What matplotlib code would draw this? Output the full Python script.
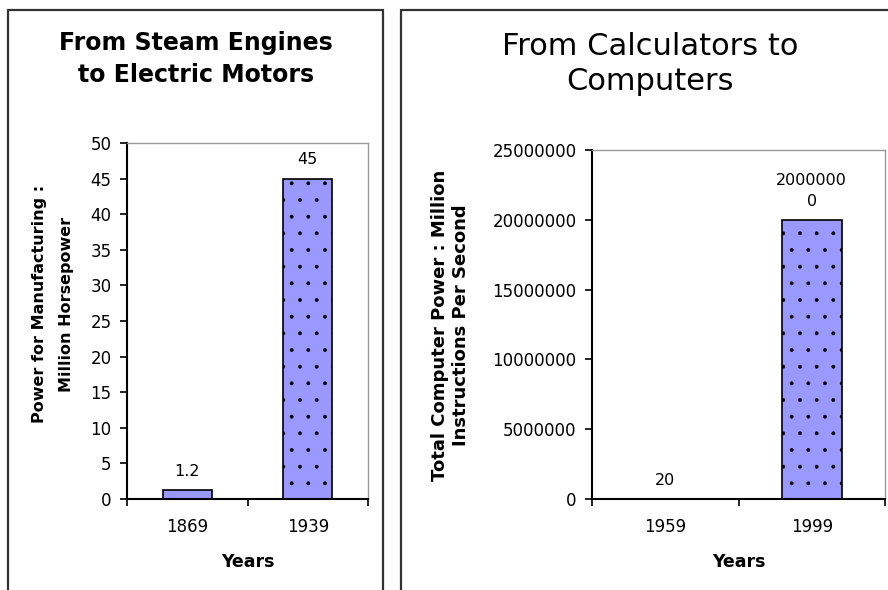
import numpy as np
import matplotlib.pyplot as plt
from matplotlib.patches import Rectangle

# データ
left_years = ['1869', '1939']
left_power = [1.2, 45]
left_labels = ['1.2', '45']

right_years = ['1959', '1999']
right_mips = [20, 20000000]
right_labels = ['20', '2000000\n0']

W, H = 888, 590
BAR = '#9999ff'

plt.rcParams['hatch.linewidth'] = 0.3
plt.rcParams['hatch.color'] = '#3a3a7a'

fig = plt.figure(figsize=(W/100, H/100), dpi=100)

def fx(px): return px/W
def fy(py): return 1 - py/H

# パネルの枠
for x0, x1 in [(8, 383), (401, 895)]:
    fig.add_artist(Rectangle((fx(x0), fy(600)), fx(x1-x0), (600-10)/H,
                             transform=fig.transFigure, fill=False,
                             edgecolor='#333333', linewidth=1.6))

def panel(rect, years, vals, labels, ymax, ystep):
    ax = fig.add_axes([fx(rect[0]), fy(rect[3]), fx(rect[2]-rect[0]), (rect[3]-rect[1])/H])
    x = np.arange(len(years))
    ax.bar(x, vals, width=0.41, color=BAR, edgecolor='black', linewidth=1.2,
           hatch=['', '.'])
    for xi, v, s in zip(x, vals, labels):
        ax.annotate(s, (xi, v), xytext=(0, 8), textcoords='offset points',
                    ha='center', va='bottom', fontsize=11.5, linespacing=1.45)
    ax.set_xlim(-0.5, len(years)-0.5)
    ax.set_ylim(0, ymax)
    yt = np.arange(0, ymax+1, ystep)
    ax.set_yticks(yt)
    ax.set_yticklabels([str(int(t)) for t in yt])
    ax.set_xticks(np.arange(len(years)+1)-0.5)
    ax.set_xticklabels([])
    ax.set_xticks(x, minor=True)
    ax.set_xticklabels(years, minor=True)
    ax.tick_params(axis='x', which='major', direction='out', length=5, width=1.2)
    ax.tick_params(axis='x', which='minor', length=0, pad=14, labelsize=12)
    ax.tick_params(axis='y', direction='out', length=5, width=1.2, pad=6, labelsize=12)
    for s in ['top', 'right']:
        ax.spines[s].set_color('#999999')
        ax.spines[s].set_linewidth(1.0)
    for s in ['left', 'bottom']:
        ax.spines[s].set_linewidth(1.5)
    fig.text(fx((rect[0]+rect[2])/2), fy(567), 'Years', ha='center', va='baseline',
             fontsize=12.5, fontweight='bold')
    return ax

panel((127, 143, 368, 499), left_years, left_power, left_labels, 50, 5)
panel((592, 150, 885, 499), right_years, right_mips, right_labels, 25000000, 5000000)

# タイトル
fig.text(fx(196), fy(50), 'From Steam Engines', ha='center', va='baseline',
         fontsize=17, fontweight='bold')
fig.text(fx(196), fy(82), 'to Electric Motors', ha='center', va='baseline',
         fontsize=17, fontweight='bold')
fig.text(fx(650), fy(55), 'From Calculators to', ha='center', va='baseline', fontsize=22)
fig.text(fx(650), fy(90), 'Computers', ha='center', va='baseline', fontsize=22)

# 縦軸ラベル
fig.text(fx(40), fy(304), 'Power for Manufacturing :', ha='center', va='center',
         rotation=90, fontsize=11.5, fontweight='bold')
fig.text(fx(66), fy(304), 'Million Horsepower', ha='center', va='center',
         rotation=90, fontsize=11.5, fontweight='bold')
fig.text(fx(440), fy(325), 'Total Computer Power : Million', ha='center', va='center',
         rotation=90, fontsize=13, fontweight='bold')
fig.text(fx(461), fy(325), 'Instructions Per Second', ha='center', va='center',
         rotation=90, fontsize=13, fontweight='bold')

fig.savefig('out.png', dpi=100)
